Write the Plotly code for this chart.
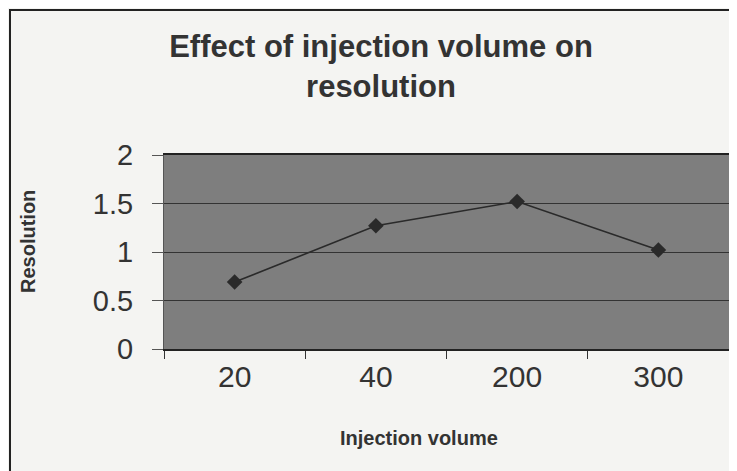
import plotly.graph_objects as go

# Data
volumes = ['20', '40', '200', '300']
resolution = [0.69, 1.27, 1.52, 1.02]
y_ticks = [0, 0.5, 1, 1.5, 2]
y_tick_text = ['0', '0.5', '1', '1.5', '2']

# plot area in figure pixels (page adds an 8px body margin)
L, R, T, B = 156, 16, 147, 130
PW, PH = 737 - L - R, 471 - T - B

fig = go.Figure()
fig.add_trace(go.Scatter(
    x=volumes,
    y=resolution,
    mode='lines+markers',
    line=dict(color='#2a2a2a', width=1.6),
    marker=dict(symbol='diamond', size=12, color='#2a2a2a'),
    showlegend=False,
))

# outer chart border (cut off at right/bottom like the scan)
fig.add_shape(type='rect', xref='paper', yref='paper',
              x0=(2 - L) / PW, x1=1.3, y0=-1.0, y1=(471 - B - 2) / PH,
              line=dict(color='#222', width=2), layer='below')

# axis titles placed as annotations to match the scan
fig.add_annotation(text='<b>Resolution</b>', textangle=-90, showarrow=False,
                   xref='paper', yref='paper', x=(20 - L) / PW, y=(471 - B - 234) / PH,
                   xanchor='center', yanchor='middle',
                   font=dict(size=20, color='#333'))
fig.add_annotation(text='<b>Injection volume</b>', showarrow=False,
                   xref='paper', yref='paper', x=(411 - L) / PW, y=-(430 - (471 - B)) / PH,
                   xanchor='center', yanchor='middle',
                   font=dict(size=20, color='#333'))

fig.update_layout(
    width=737, height=471,
    margin=dict(l=L, r=R, t=T, b=B),
    paper_bgcolor='#f4f4f2',
    plot_bgcolor='#7e7e7e',
    font=dict(family='Liberation Sans, Arial', color='#333'),
    title=dict(
        text='<b>Effect of injection volume on<br>resolution</b>',
        x=373 / 737, xref='container', xanchor='center',
        y=(471 - 49) / 471, yanchor='middle',
        font=dict(size=31, color='#333'),
    ),
    xaxis=dict(
        type='category', range=[-0.5, 3.5],
        tickson='boundaries', ticks='outside', ticklen=8, tickcolor='#333',
        tickfont=dict(size=30, color='#333'),
        showline=True, linecolor='#222', linewidth=2, mirror=True,
        showgrid=False, zeroline=False,
    ),
    yaxis=dict(
        range=[0, 2], tickvals=y_ticks, ticktext=y_tick_text,
        ticks='outside', ticklen=11, tickcolor='#555',
        ticklabelstandoff=13,
        tickfont=dict(size=29, color='#333'),
        showline=True, linecolor='#555', linewidth=1, mirror=True,
        showgrid=True, gridcolor='#333333', gridwidth=1.2, zeroline=False,
    ),
)

fig.write_html('out.html')
